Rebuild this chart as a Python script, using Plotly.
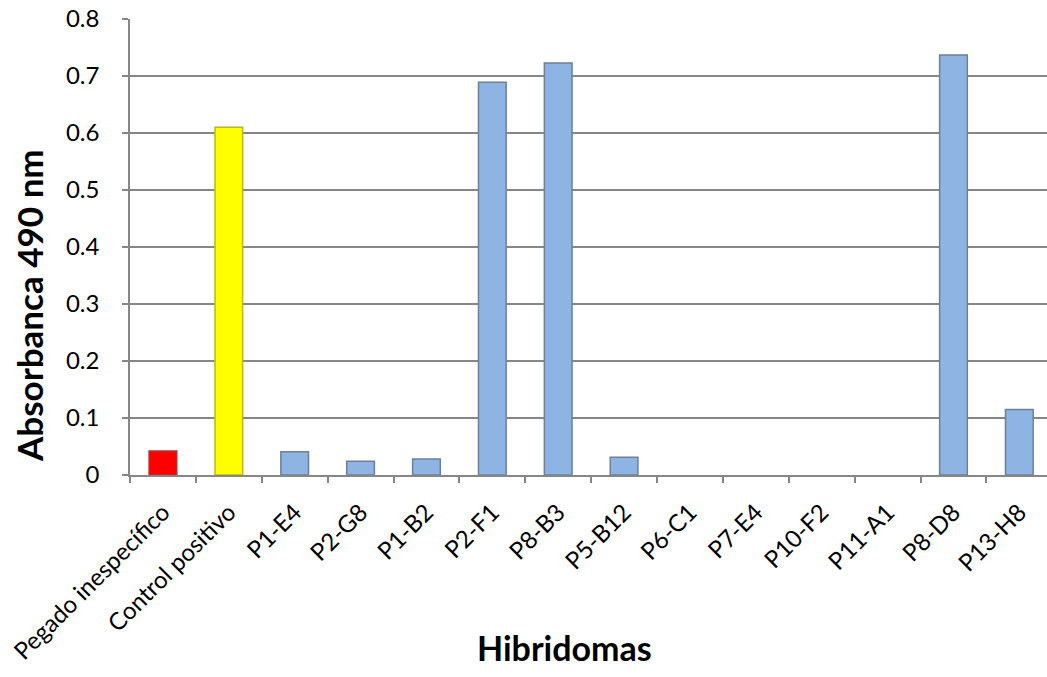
import plotly.graph_objects as go

# Hybridoma screening: absorbance at 490 nm per sample
categories = [
    "Pegado inespecífico", "Control positivo", "P1-E4", "P2-G8", "P1-B2",
    "P2-F1", "P8-B3", "P5-B12", "P6-C1", "P7-E4", "P10-F2", "P11-A1",
    "P8-D8", "P13-H8",
]
absorbance = [0.042, 0.610, 0.041, 0.024, 0.028, 0.689, 0.723, 0.031,
              0.0, 0.0, 0.0, 0.0, 0.737, 0.115]

fill_colors = ["#FF0000", "#FFFF00"] + ["#8DB4E2"] * 12
edge_colors = ["#B03030", "#B8B820"] + ["#6E7F96"] * 12
# no outline for empty wells so nothing is drawn at zero
edge_widths = [1.5 if v > 0 else 0 for v in absorbance]

y_ticks = [0, 0.1, 0.2, 0.3, 0.4, 0.5, 0.6, 0.7, 0.8]
y_tick_text = ["0", "0.1", "0.2", "0.3", "0.4", "0.5", "0.6", "0.7", "0.8"]

grid_gray = "#868686"
font_family = "Lato, 'Open Sans', sans-serif"

fig = go.Figure()
fig.add_trace(go.Bar(
    x=categories,
    y=absorbance,
    width=0.42,
    marker=dict(color=fill_colors,
                line=dict(color=edge_colors, width=edge_widths)),
    hoverinfo="x+y",
))

fig.update_layout(
    width=1047,
    height=677,
    margin=dict(l=130, r=0, t=19, b=202),
    plot_bgcolor="white",
    paper_bgcolor="white",
    showlegend=False,
    font=dict(family=font_family, color="black", size=23),
    xaxis=dict(
        type="category",
        range=[-0.5, 13.42],
        tickangle=-45,
        tickson="boundaries",
        ticks="outside",
        ticklen=6,
        tickwidth=1.5,
        tickcolor=grid_gray,
        showline=True,
        linecolor=grid_gray,
        linewidth=1.5,
        showgrid=False,
        tickfont=dict(size=24, family=font_family),
        ticklabelstandoff=12,
    ),
    yaxis=dict(
        range=[0, 0.8],
        tickvals=y_ticks,
        ticktext=y_tick_text,
        ticks="outside",
        ticklen=6,
        tickwidth=1.5,
        tickcolor=grid_gray,
        showline=True,
        linecolor=grid_gray,
        linewidth=1.5,
        showgrid=True,
        gridcolor=grid_gray,
        gridwidth=1.5,
        zeroline=False,
        tickfont=dict(size=24, family=font_family),
        ticklabelstandoff=18,
    ),
    annotations=[
        dict(
            text="<b>Absorbanca 490 nm</b>",
            xref="paper", yref="paper",
            x=-0.110, y=0.371,
            xanchor="center", yanchor="middle",
            textangle=-90,
            showarrow=False,
            font=dict(size=35, family=font_family),
        ),
        dict(
            text="<b>Hibridomas</b>",
            xref="paper", yref="paper",
            x=0.474, y=-0.379,
            xanchor="center", yanchor="middle",
            showarrow=False,
            font=dict(size=34, family=font_family),
        ),
    ],
)

fig.write_html("out.html")
